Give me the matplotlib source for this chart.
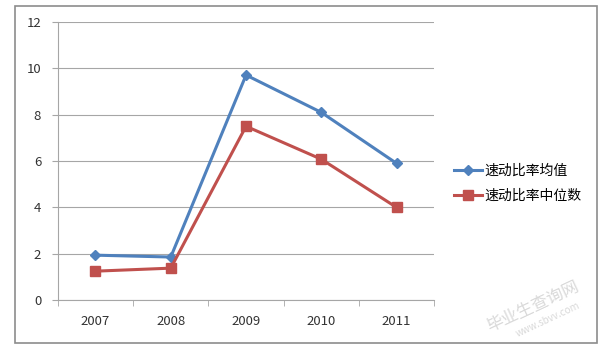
import matplotlib.pyplot as plt
from matplotlib.patches import Rectangle
import numpy as np

plt.rcParams["font.family"] = ["Noto Sans CJK SC", "DejaVu Sans"]

years = ["2007", "2008", "2009", "2010", "2011"]
mean_vals = [1.94, 1.86, 9.71, 8.10, 5.90]
median_vals = [1.25, 1.38, 7.50, 6.08, 4.00]
BLUE, RED, GRID = "#4F81BD", "#C0504D", "#A6A6A6"

fig = plt.figure(figsize=(6.09, 3.49), dpi=100)
ax = fig.add_axes([0.095, 0.140, 0.618, 0.797])

x = np.arange(len(years))
ax.plot(x, mean_vals, color=BLUE, lw=2.2, marker="D", ms=5.5, label="速动比率均值")
ax.plot(x, median_vals, color=RED, lw=2.2, marker="s", ms=7, label="速动比率中位数")

ax.set_xlim(-0.5, len(years) - 0.5)
ax.set_ylim(0, 12)
ax.set_yticks(range(0, 13, 2))
ax.set_xticks(x)
ax.set_xticklabels(years)
ax.set_xticks(np.arange(-0.5, len(years), 1), minor=True)
ax.tick_params(axis="x", which="major", length=0, pad=11, labelsize=9.5, colors="#333")
ax.tick_params(axis="x", which="minor", length=4, color=GRID, direction="out")
ax.tick_params(axis="y", length=4, color=GRID, labelsize=9.5, colors="#333", pad=8)
ax.grid(axis="y", color=GRID, lw=0.8)
ax.set_axisbelow(True)
for s in ["top", "right"]:
    ax.spines[s].set_visible(False)
for s in ["left", "bottom"]:
    ax.spines[s].set_color(GRID)

ax.legend(loc="center left", bbox_to_anchor=(1.02, 0.42), frameon=False,
          fontsize=10, handlelength=2.0, labelspacing=0.75, handletextpad=0.15)

# outer chart border
fig.patches.append(Rectangle((15 / 609, 6 / 349), 582 / 609, 337 / 349,
                             transform=fig.transFigure, fill=False,
                             ec="#8C8C8C", lw=1.2))

# faint watermark
fig.text(0.875, 0.12, "毕业生查询网", rotation=25, fontsize=12, color="#D9D9D9",
         ha="center", va="center")
fig.text(0.9, 0.085, "www.sbvv.com", rotation=25, fontsize=7, color="#D9D9D9",
         ha="center", va="center")

fig.savefig("out.png", dpi=100)
